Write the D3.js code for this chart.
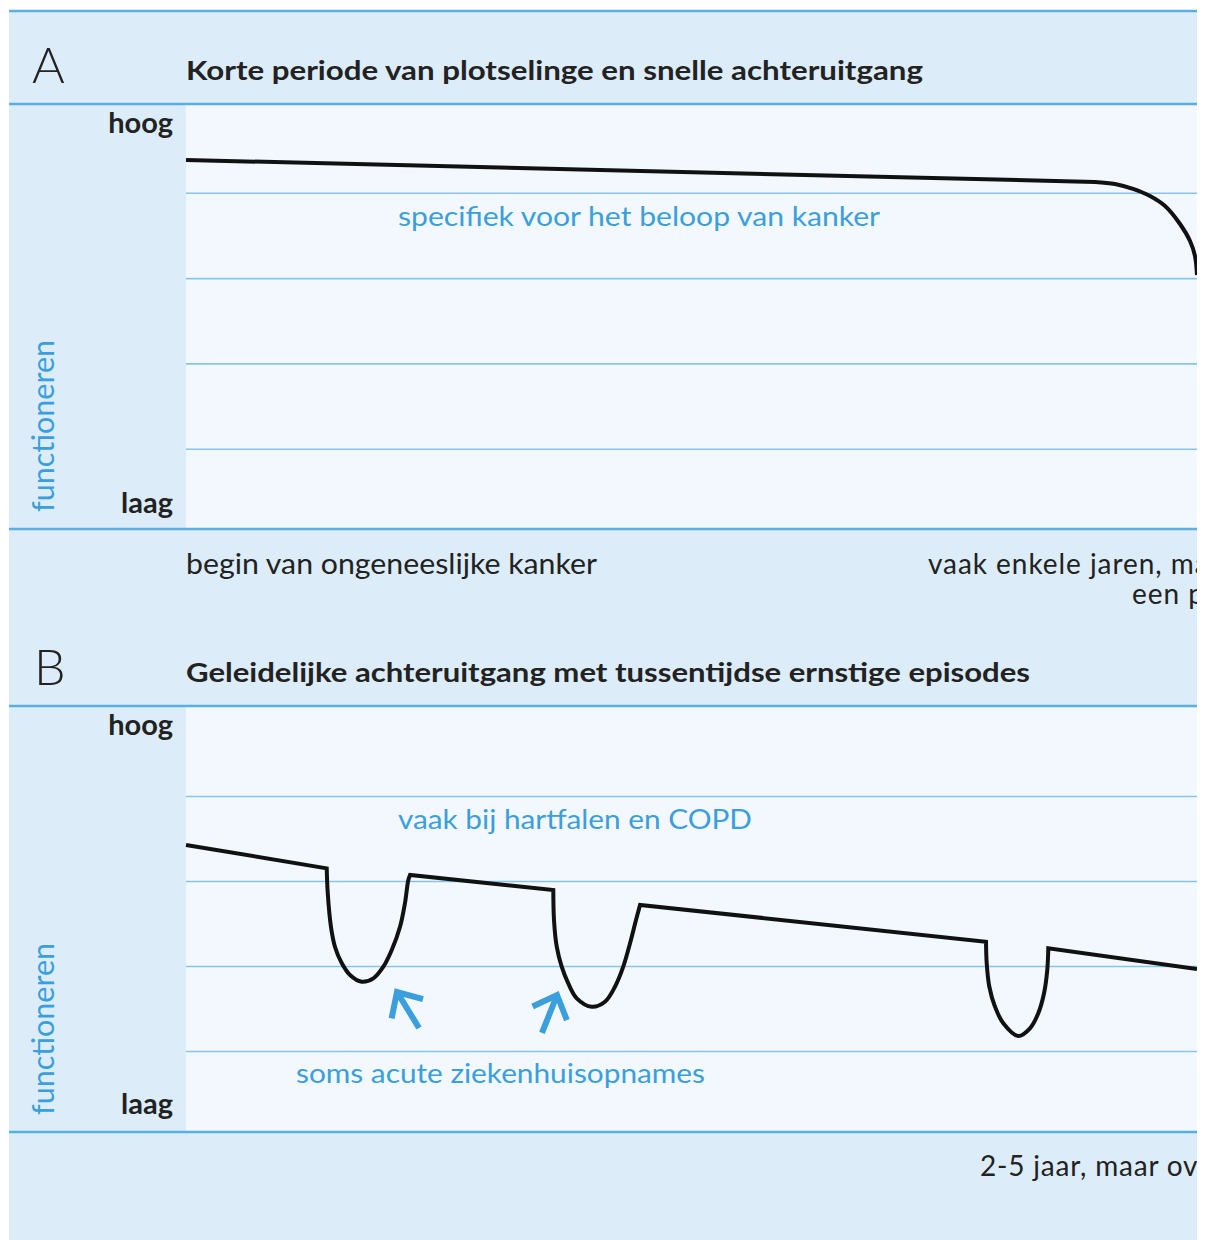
<!DOCTYPE html>
<html>
<head>
<meta charset="utf-8">
<script src="https://cdn.jsdelivr.net/npm/d3@7/dist/d3.min.js"></script>
<style>
  html, body { margin: 0; padding: 0; background: #ffffff; }
  svg { display: block; }
  text { font-family: Lato, "Open Sans", sans-serif; }
</style>
</head>
<body>
<svg id="chart" width="1206" height="1240"></svg>
<script>
// ---------- data ----------
const gridLevels = [1, 2, 3, 4];
const yTickLabels = ["hoog", "laag"];
const yAxisTitle = "functioneren";

// Panel A: time (0-100), functioning level (0-5)
const straightA = [[0, 4.385], [89.91, 4.127]];
const cornerA = [
  [89.91, 4.127], [91.89, 4.103], [93.67, 4.045], [95.35, 3.962], [96.84, 3.845],
  [98.32, 3.634], [99.31, 3.435], [99.80, 3.259], [100, 3.036]
];

// Panel B: straight trend segments (pairs of points)
const trendB = [
  [[0, 3.424], [13.92, 3.149]],
  [[22.16, 3.071], [36.33, 2.894]],
  [[44.91, 2.718], [79.13, 2.286]],
  [[85.29, 2.208], [100, 1.965]]
];
// Panel B: acute episodes (dips)
const dip1 = [[13.92, 3.149], [14.02, 2.859], [14.34, 2.459], [14.74, 2.224], [15.40, 2.035],
              [16.22, 1.894], [17.38, 1.815], [18.53, 1.855], [19.52, 1.992], [20.35, 2.188],
              [21.17, 2.462], [21.66, 2.741], [21.99, 3.012], [22.16, 3.071]];
const dip2 = [[36.33, 2.894], [36.40, 2.541], [36.67, 2.227], [37.16, 1.992], [37.81, 1.796],
              [38.65, 1.620], [40.13, 1.521], [41.44, 1.580], [42.43, 1.756], [43.25, 1.992],
              [43.92, 2.267], [44.51, 2.541], [44.91, 2.718]];
const dip3 = [[79.13, 2.286], [79.20, 2.032], [79.46, 1.756], [80.02, 1.521], [80.84, 1.326],
              [82.32, 1.176], [83.48, 1.267], [84.30, 1.444], [84.87, 1.679], [85.19, 1.953],
              [85.29, 2.208]];
const dipsB = [dip1, dip2, dip3];
// arrows pointing at admissions: [tail, tip]
const arrowsB = [
  [[23.05, 1.271], [20.87, 1.694]],
  [[35.21, 1.212], [36.70, 1.659]]
];

const titleA = "Korte periode van plotselinge en snelle achteruitgang";
const titleB = "Geleidelijke achteruitgang met tussentijdse ernstige episodes";
const noteA = "specifiek voor het beloop van kanker";
const noteB1 = "vaak bij hartfalen en COPD";
const noteB2 = "soms acute ziekenhuisopnames";
const startA = "begin van ongeneeslijke kanker";
const durationA = ["vaak enkele jaren, maar de achteruitgang", "een paar maanden"];
const durationB = "2-5 jaar, maar overlijden komt meestal onverwacht";

// ---------- style ----------
const C = {
  panel: "#dcedf9", plot: "#f2f8fd", rule: "#5aafe2", grid: "#86c4ea",
  blue: "#3a9fdc", ink: "#222222", line: "#111111"
};

const svg = d3.select("#chart");
svg.append("defs").append("clipPath").attr("id", "clip")
  .append("rect").attr("x", 0).attr("y", 0).attr("width", 1197).attr("height", 1240);
const root = svg.append("g").attr("clip-path", "url(#clip)");

const x = d3.scaleLinear().domain([0, 100]).range([186, 1197]);
const yA = d3.scaleLinear().domain([0, 5]).range([534, 107.5]);
const yB = d3.scaleLinear().domain([0, 5]).range([1136, 711]);

// backgrounds
root.append("rect").attr("x", 9).attr("y", 11).attr("width", 1188).attr("height", 1229).attr("fill", C.panel);
root.append("rect").attr("x", 186).attr("y", 105).attr("width", 1011).attr("height", 423).attr("fill", C.plot);
root.append("rect").attr("x", 186).attr("y", 707).attr("width", 1011).attr("height", 424).attr("fill", C.plot);

// gridlines via axes
function grid(y) {
  const g = root.append("g").attr("transform", "translate(186,0)")
    .call(d3.axisLeft(y).tickValues(gridLevels).tickSize(-1011).tickFormat(""));
  g.select(".domain").remove();
  g.selectAll(".tick line").attr("stroke", C.grid).attr("stroke-width", 1.6);
}
grid(yA); grid(yB);

// section rules
[11, 104, 529, 706, 1132].forEach(yy => {
  root.append("line").attr("x1", 9).attr("x2", 1197).attr("y1", yy).attr("y2", yy)
    .attr("stroke", C.rule).attr("stroke-width", 2.6);
});

// panel letters & titles
function txt(t, px, py, o) {
  const e = root.append("text").attr("x", px).attr("y", py).text(t)
    .attr("font-size", o.size).attr("font-weight", o.weight || 400)
    .attr("fill", o.fill || C.ink).attr("text-anchor", o.anchor || "start");
  if (o.len) e.attr("textLength", o.len).attr("lengthAdjust", "spacingAndGlyphs");
  if (o.ls) e.attr("letter-spacing", o.ls);
  return e;
}
txt("A", 32, 83, {size: 50, weight: 300});
txt("B", 34, 685, {size: 50, weight: 300});
txt(titleA, 186, 80, {size: 26, weight: 700, len: 737});
txt(titleB, 186, 682, {size: 26, weight: 700, len: 844});

// y labels
[[133, 513, 512], [735, 1114, 1115]].forEach(([hy, ly, fy]) => {
  txt(yTickLabels[0], 173, hy, {size: 29, weight: 700, anchor: "end"});
  txt(yTickLabels[1], 173, ly, {size: 29, weight: 700, anchor: "end"});
  root.append("text").attr("transform", `translate(54,${fy}) rotate(-90)`)
    .attr("font-size", 30).attr("fill", C.blue).attr("textLength", 172)
    .attr("lengthAdjust", "spacingAndGlyphs").text(yAxisTitle);
});

// annotations
txt(noteA, 398, 226, {size: 27, fill: C.blue, len: 482});
txt(noteB1, 398, 829, {size: 27, fill: C.blue, len: 354});
txt(noteB2, 296, 1083, {size: 27, fill: C.blue, len: 409});
txt(startA, 186, 574, {size: 28, len: 411});
txt(durationA[0], 928, 574, {size: 28, ls: 0.95});
txt(durationA[1], 1132, 604, {size: 28, ls: 0.95});
txt(durationB, 980, 1176, {size: 28, ls: 0.8});

// ---------- curves ----------
const cont = s => s.replace(/^M/, "L");   // continue a path instead of starting a new one

const linA = d3.line().x(d => x(d[0])).y(d => yA(d[1]));
const smoothA = d3.line().x(d => x(d[0])).y(d => yA(d[1])).curve(d3.curveCatmullRom.alpha(0.5));
root.append("path").attr("d", linA(straightA) + cont(smoothA(cornerA))).attr("fill", "none")
  .attr("stroke", C.line).attr("stroke-width", 4).attr("stroke-linecap", "butt")
  .attr("stroke-linejoin", "round");

const segB = d3.line().x(d => x(d[0])).y(d => yB(d[1]));
const dipLine = d3.line().x(d => x(d[0])).y(d => yB(d[1])).curve(d3.curveCatmullRom.alpha(0.5));
let dB = "";
trendB.forEach((s, i) => {
  const part = segB(s);
  dB += i === 0 ? part : cont(part);
  if (dipsB[i]) dB += cont(dipLine(dipsB[i]));
});
root.append("path").attr("d", dB).attr("fill", "none")
  .attr("stroke", C.line).attr("stroke-width", 4).attr("stroke-linejoin", "miter")
  .attr("stroke-miterlimit", 10);

// arrows
arrowsB.forEach(([tail, tip]) => {
  const tx = x(tail[0]), ty = yB(tail[1]), px = x(tip[0]), py = yB(tip[1]);
  const ang = Math.atan2(ty - py, tx - px);
  const L = 27, spread = 43 * Math.PI / 180;
  const a1 = [px + L * Math.cos(ang + spread), py + L * Math.sin(ang + spread)];
  const a2 = [px + L * Math.cos(ang - spread), py + L * Math.sin(ang - spread)];
  const p = d3.path();
  p.moveTo(tx, ty); p.lineTo(px, py);
  p.moveTo(a1[0], a1[1]); p.lineTo(px, py); p.lineTo(a2[0], a2[1]);
  root.append("path").attr("d", p.toString()).attr("fill", "none")
    .attr("stroke", C.blue).attr("stroke-width", 6).attr("stroke-linejoin", "miter");
});
</script>
</body>
</html>
